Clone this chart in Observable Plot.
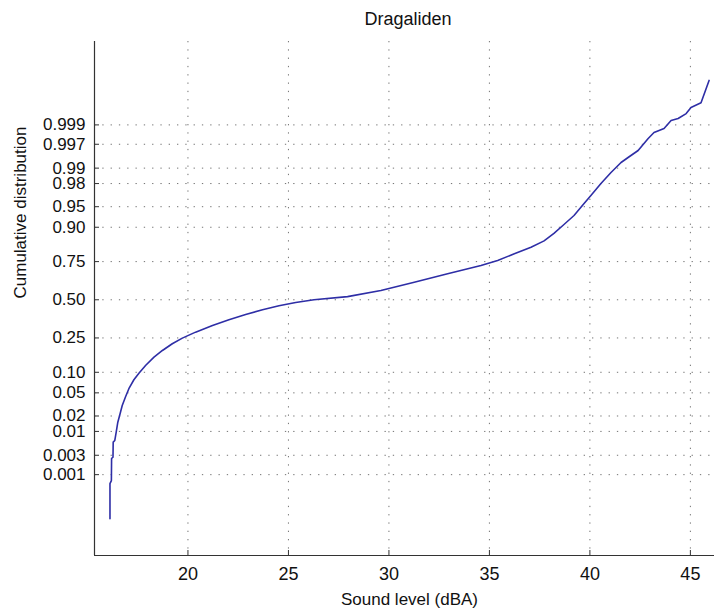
<!DOCTYPE html>
<html>
<head>
<meta charset="utf-8">
<script src="https://cdn.jsdelivr.net/npm/d3@7"></script>
<script src="https://cdn.jsdelivr.net/npm/@observablehq/plot@0.6"></script>
<style>
  body { margin: 0; background: #fff; font-family: "Liberation Sans", Arial, Helvetica, sans-serif; }
  #title { margin-left: 94px; width: 628px; height: 36px; box-sizing: border-box; padding-top: 10px;
           text-align: center; font-size: 18px; line-height: 1; color: #111; }
</style>
</head>
<body>
<div id="title">Dragaliden</div>
<div id="chart"></div>
<script>
// Sound level (dBA) and cumulative probability
const soundLevel = [16.12, 16.12, 16.19, 16.20, 16.27, 16.28, 16.36, 16.43, 16.51, 16.60,
  16.73, 16.90, 17.06, 17.31, 17.56, 17.89, 18.31, 18.73, 19.22, 19.72,
  20.38, 21.22, 22.04, 22.87, 23.71, 24.53, 25.36, 26.27, 27.94, 29.60,
  31.26, 32.92, 34.58, 35.41, 36.24, 37.07, 37.72, 38.21, 38.71, 39.21,
  39.71, 40.05, 40.55, 41.05, 41.55, 41.90, 42.40, 42.90, 43.19, 43.69,
  44.04, 44.39, 44.79, 45.03, 45.53, 45.93];
const cumulative = [0.0000547, 0.00058, 0.00070, 0.00252, 0.00271, 0.00593, 0.00646, 0.00967, 0.01527, 0.02048,
  0.03095, 0.0438, 0.0580, 0.0788, 0.0973, 0.1228, 0.1553, 0.1851, 0.2186, 0.2489,
  0.2837, 0.3249, 0.3620, 0.3974, 0.4298, 0.4578, 0.4809, 0.5000, 0.5220, 0.5651,
  0.6221, 0.6769, 0.7277, 0.7562, 0.7919, 0.8236, 0.8510, 0.8800, 0.9083, 0.9318,
  0.9555, 0.9673, 0.9801, 0.98774, 0.99237, 0.99403, 0.99583, 0.99781, 0.99844, 0.99877,
  0.99923, 0.99932, 0.99950, 0.99966, 0.99975, 0.999947];

const xTicks = [20, 25, 30, 35, 40, 45];
const yTickValues = [0.001, 0.003, 0.01, 0.02, 0.05, 0.10, 0.25, 0.50, 0.75, 0.90, 0.95, 0.98, 0.99, 0.997, 0.999];
const yTickLabels = ["0.001", "0.003", "0.01", "0.02", "0.05", "0.10", "0.25", "0.50", "0.75", "0.90", "0.95", "0.98", "0.99", "0.997", "0.999"];
const xDomain = [15.35, 46.2];
const zDomain = [-4.519, 4.564];

// inverse normal CDF (probit) for the normal-probability axis
function probit(p) {
  const a = [-3.969683028665376e+01, 2.209460984245205e+02, -2.759285104469687e+02, 1.383577518672690e+02, -3.066479806614716e+01, 2.506628277459239e+00];
  const b = [-5.447609879822406e+01, 1.615858368580409e+02, -1.556989798598866e+02, 6.680131188771972e+01, -1.328068155288572e+01];
  const c = [-7.784894002430293e-03, -3.223964580411365e-01, -2.400758277161838e+00, -2.549732539343734e+00, 4.374664141464968e+00, 2.938163982698783e+00];
  const d = [7.784695709041462e-03, 3.224671290700398e-01, 2.445134137142996e+00, 3.754408661907416e+00];
  const pl = 0.02425, ph = 1 - pl;
  let q, r;
  if (p < pl) {
    q = Math.sqrt(-2 * Math.log(p));
    return (((((c[0]*q+c[1])*q+c[2])*q+c[3])*q+c[4])*q+c[5]) / ((((d[0]*q+d[1])*q+d[2])*q+d[3])*q+1);
  }
  if (p > ph) {
    q = Math.sqrt(-2 * Math.log(1 - p));
    return -(((((c[0]*q+c[1])*q+c[2])*q+c[3])*q+c[4])*q+c[5]) / ((((d[0]*q+d[1])*q+d[2])*q+d[3])*q+1);
  }
  q = p - 0.5; r = q * q;
  return (((((a[0]*r+a[1])*r+a[2])*r+a[3])*r+a[4])*r+a[5])*q / (((((b[0]*r+b[1])*r+b[2])*r+b[3])*r+b[4])*r+1);
}

const data = soundLevel.map((x, i) => ({x, z: probit(cumulative[i])}));
const yTicksZ = yTickValues.map(probit);
const labelMap = new Map(yTicksZ.map((z, i) => [z, yTickLabels[i]]));

const gridStyle = {stroke: "#444", strokeOpacity: 0.75, strokeDasharray: "1.3,7", strokeWidth: 1};

const chart = Plot.plot({
  width: 714,
  height: 572,
  marginTop: 5,
  marginBottom: 53,
  marginLeft: 94,
  marginRight: 0,
  style: {fontFamily: "'Liberation Sans', Arial, Helvetica, sans-serif", fontSize: "17px", color: "#111", background: "#fff"},
  x: {domain: xDomain},
  y: {domain: zDomain},
  marks: [
    Plot.ruleX(xTicks, gridStyle),
    Plot.ruleY(yTicksZ, gridStyle),
    Plot.line(data, {x: "x", y: "z", stroke: "#2e2ea6", strokeWidth: 1.6}),
    Plot.ruleX([xDomain[0]], {stroke: "#333", strokeWidth: 1.2}),
    Plot.ruleY([zDomain[0]], {stroke: "#333", strokeWidth: 1.2}),
    Plot.axisX(xTicks, {tickSize: -5, tickPadding: 17, fontSize: 18, label: null, stroke: "#333"}),
    Plot.axisY(yTicksZ, {tickSize: -5, tickPadding: 14, tickFormat: z => labelMap.get(z), label: null, stroke: "#333"}),
    Plot.text(["Sound level (dBA)"], {frameAnchor: "bottom", dx: 5, dy: 44, lineAnchor: "middle", fontSize: 17, fill: "#111"}),
    Plot.text(["Cumulative distribution"], {frameAnchor: "left", dx: -74, rotate: -90, lineAnchor: "middle", fontSize: 17, fill: "#111"})
  ]
});
document.getElementById("chart").appendChild(chart);
</script>
</body>
</html>
